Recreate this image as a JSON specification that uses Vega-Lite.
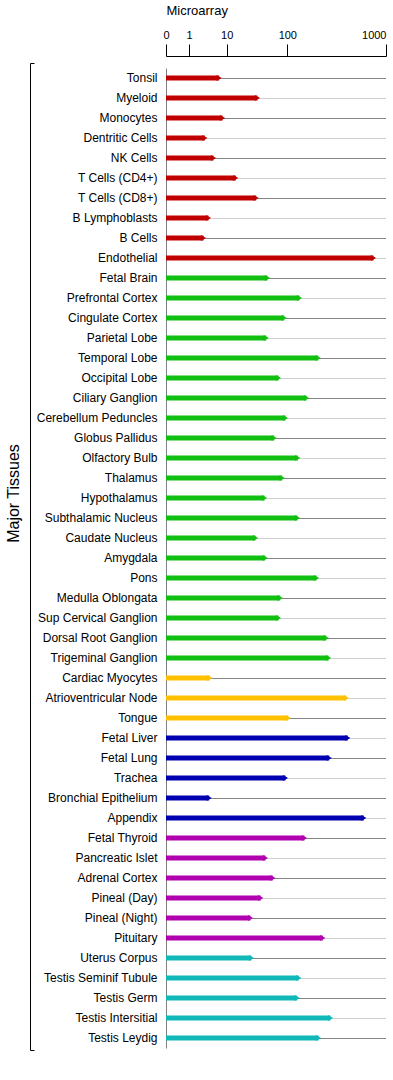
{
  "$schema": "https://vega.github.io/schema/vega-lite/v6.json",
  "width": 220,
  "height": 980,
  "autosize": {"type": "none"},
  "padding": {"left": 166, "top": 68, "right": 7, "bottom": 32},
  "background": "white",
  "config": {
    "view": {"stroke": null},
    "font": "Liberation Sans",
    "axisX": {
      "orient": "top",
      "offset": 12,
      "tickSize": 12,
      "tickColor": "#000000",
      "domainColor": "#000000",
      "grid": false,
      "labelFontSize": 11,
      "labelColor": "#000000",
      "labelPadding": 4,
      "labelOverlap": false,
      "labelFlush": false,
      "titleFontSize": 13,
      "titleFontWeight": "normal",
      "titleColor": "#000000",
      "titleAnchor": "start",
      "titleAlign": "left",
      "titlePadding": 12
    }
  },
  "data": {
    "values": [
      {"tissue": "Tonsil", "value": 8.2, "group": "Immune"},
      {"tissue": "Myeloid", "value": 55.7, "group": "Immune"},
      {"tissue": "Monocytes", "value": 9.0, "group": "Immune"},
      {"tissue": "Dentritic Cells", "value": 4.8, "group": "Immune"},
      {"tissue": "NK Cells", "value": 6.85, "group": "Immune"},
      {"tissue": "T Cells (CD4+)", "value": 23.5, "group": "Immune"},
      {"tissue": "T Cells (CD8+)", "value": 53.8, "group": "Immune"},
      {"tissue": "B Lymphoblasts", "value": 5.65, "group": "Immune"},
      {"tissue": "B Cells", "value": 4.46, "group": "Immune"},
      {"tissue": "Endothelial", "value": 886, "group": "Immune"},
      {"tissue": "Fetal Brain", "value": 70.6, "group": "Neural"},
      {"tissue": "Prefrontal Cortex", "value": 211, "group": "Neural"},
      {"tissue": "Cingulate Cortex", "value": 95.4, "group": "Neural"},
      {"tissue": "Parietal Lobe", "value": 68.7, "group": "Neural"},
      {"tissue": "Temporal Lobe", "value": 381.8, "group": "Neural"},
      {"tissue": "Occipital Lobe", "value": 86.9, "group": "Neural"},
      {"tissue": "Ciliary Ganglion", "value": 275.1, "group": "Neural"},
      {"tissue": "Cerebellum Peduncles", "value": 97.3, "group": "Neural"},
      {"tissue": "Globus Pallidus", "value": 80.5, "group": "Neural"},
      {"tissue": "Olfactory Bulb", "value": 195.7, "group": "Neural"},
      {"tissue": "Thalamus", "value": 92.4, "group": "Neural"},
      {"tissue": "Hypothalamus", "value": 66.1, "group": "Neural"},
      {"tissue": "Subthalamic Nucleus", "value": 193, "group": "Neural"},
      {"tissue": "Caudate Nucleus", "value": 52.8, "group": "Neural"},
      {"tissue": "Amygdala", "value": 67.2, "group": "Neural"},
      {"tissue": "Pons", "value": 366.3, "group": "Neural"},
      {"tissue": "Medulla Oblongata", "value": 89.5, "group": "Neural"},
      {"tissue": "Sup Cervical Ganglion", "value": 86.9, "group": "Neural"},
      {"tissue": "Dorsal Root Ganglion", "value": 454.7, "group": "Neural"},
      {"tissue": "Trigeminal Ganglion", "value": 475.7, "group": "Neural"},
      {"tissue": "Cardiac Myocytes", "value": 5.97, "group": "Muscle"},
      {"tissue": "Atrioventricular Node", "value": 637.1, "group": "Muscle"},
      {"tissue": "Tongue", "value": 108.2, "group": "Muscle"},
      {"tissue": "Fetal Liver", "value": 651.7, "group": "Epithelial"},
      {"tissue": "Fetal Lung", "value": 482.1, "group": "Epithelial"},
      {"tissue": "Trachea", "value": 97.3, "group": "Epithelial"},
      {"tissue": "Bronchial Epithelium", "value": 5.82, "group": "Epithelial"},
      {"tissue": "Appendix", "value": 797.6, "group": "Epithelial"},
      {"tissue": "Fetal Thyroid", "value": 256.8, "group": "Endocrine"},
      {"tissue": "Pancreatic Islet", "value": 67.6, "group": "Endocrine"},
      {"tissue": "Adrenal Cortex", "value": 78.5, "group": "Endocrine"},
      {"tissue": "Pineal (Day)", "value": 60.6, "group": "Endocrine"},
      {"tissue": "Pineal (Night)", "value": 45.3, "group": "Endocrine"},
      {"tissue": "Pituitary", "value": 423.7, "group": "Endocrine"},
      {"tissue": "Uterus Corpus", "value": 46.8, "group": "Reproductive"},
      {"tissue": "Testis Seminif Tubule", "value": 204.9, "group": "Reproductive"},
      {"tissue": "Testis Germ", "value": 190.3, "group": "Reproductive"},
      {"tissue": "Testis Intersitial", "value": 493.9, "group": "Reproductive"},
      {"tissue": "Testis Leydig", "value": 384.5, "group": "Reproductive"}
    ]
  },
  "transform": [{"window": [{"op": "row_number", "as": "rn"}]}],
  "layer": [
    {
      "encoding": {
        "y": {
          "field": "tissue",
          "type": "nominal",
          "sort": null,
          "scale": {"paddingInner": 0, "paddingOuter": 0},
          "axis": {
            "title": null,
            "ticks": false,
            "grid": false,
            "labelPadding": 9,
            "labelFontSize": 12,
            "labelFont": "Liberation Sans",
            "labelColor": "#000000",
            "labelLimit": 0,
            "domainColor": "#808080",
            "domainWidth": 1
          }
        }
      },
      "layer": [
        {
          "mark": {"type": "rule", "strokeWidth": 1, "yOffset": 0.5},
          "encoding": {
            "x": {
              "datum": 0,
              "type": "quantitative",
              "scale": {"type": "linear", "domain": [0, 1, 10, 100, 1000], "range": [0, 23, 60.7, 121.3, 220], "nice": false, "zero": false},
              "axis": {"title": "Microarray", "values": [0, 1, 10, 100, 1000], "format": "d", "labelAlign": {"condition": {"test": "datum.value == 1000", "value": "right"}, "value": "center"}}
            },
            "x2": {"datum": 1000},
            "color": {"condition": {"test": "datum.rn % 2 == 1", "value": "#858585"}, "value": "#cfcfcf"}
          }
        },
        {
          "mark": {"type": "bar", "height": 5},
          "encoding": {
            "x": {
              "field": "value",
              "type": "quantitative",
              "stack": null,
              "scale": {"type": "linear", "domain": [0, 1, 10, 100, 1000], "range": [0, 23, 60.7, 121.3, 220], "nice": false, "zero": false},
              "axis": {"title": "Microarray", "values": [0, 1, 10, 100, 1000], "format": "d", "labelAlign": {"condition": {"test": "datum.value == 1000", "value": "right"}, "value": "center"}}
            },
            "x2": {"datum": 0},
            "color": {
              "field": "group",
              "type": "nominal",
              "scale": {
                "domain": ["Immune", "Neural", "Muscle", "Epithelial", "Endocrine", "Reproductive"],
                "range": ["#c00000", "#10bf10", "#ffc000", "#0000b0", "#b000b0", "#10b8b8"]
              },
              "legend": null
            }
          }
        },
        {
          "mark": {"type": "point", "shape": "triangle-right", "filled": true, "size": 36, "opacity": 1},
          "encoding": {
            "x": {
              "field": "value",
              "type": "quantitative",
              "scale": {"type": "linear", "domain": [0, 1, 10, 100, 1000], "range": [0, 23, 60.7, 121.3, 220], "nice": false, "zero": false},
              "axis": {"title": "Microarray", "values": [0, 1, 10, 100, 1000], "format": "d", "labelAlign": {"condition": {"test": "datum.value == 1000", "value": "right"}, "value": "center"}}
            },
            "color": {"field": "group", "type": "nominal", "legend": null}
          }
        }
      ]
    },
    {
      "mark": {"type": "point", "opacity": 0},
      "encoding": {
        "y": {
          "datum": 0,
          "type": "quantitative",
          "scale": {"domain": [0, 1], "range": [982, -5], "nice": false, "zero": false},
          "axis": {
            "orient": "left",
            "offset": 136,
            "values": [0, 1],
            "labels": false,
            "ticks": true,
            "tickSize": -4,
            "tickColor": "#000000",
            "domain": true,
            "domainColor": "#000000",
            "grid": false,
            "title": "Major Tissues",
            "titleFontSize": 16,
            "titleFontWeight": "normal",
            "titleColor": "#000000",
            "titleAngle": -90,
            "titleAlign": "center",
            "titleBaseline": "alphabetic",
            "titleX": -11.5,
            "titleY": 425
          }
        }
      }
    }
  ],
  "resolve": {"scale": {"y": "independent"}, "axis": {"y": "independent"}}
}
